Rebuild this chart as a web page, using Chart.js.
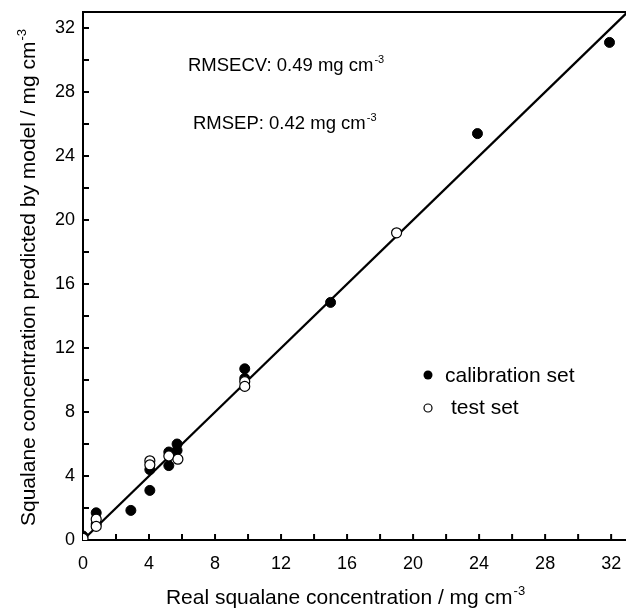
<!DOCTYPE html>
<html>
<head>
<meta charset="utf-8">
<script src="https://cdn.jsdelivr.net/npm/chart.js@4.4.1/dist/chart.umd.min.js"></script>
<style>
  html, body { margin: 0; padding: 0; background: #fff; }
  #wrap { width: 626px; height: 611px; }
</style>
</head>
<body>
<div id="wrap"><canvas id="chart" width="626" height="611"></canvas></div>
<script>
// Values
const calX = [0, 0.8, 0.8, 2.9, 4.05, 4.05, 5.2, 5.2, 5.7, 5.7, 9.8, 9.8, 15, 23.9, 31.9];
const calY = [0.25, 1.7, 1.0, 1.85, 3.1, 4.4, 4.65, 5.5, 6.0, 5.6, 10.7, 10.1, 14.85, 25.4, 31.1];
const testX = [0, 0.8, 0.8, 4.05, 4.05, 5.2, 5.75, 9.8, 9.8, 19];
const testY = [0.1, 1.3, 0.85, 4.95, 4.7, 5.25, 5.05, 9.9, 9.6, 19.2];
const fitX = [0, 33];
const fitY = [0, 33];
const tickValues = [0, 4, 8, 12, 16, 20, 24, 28, 32];

const FONT = '"Liberation Sans", Arial, Helvetica, sans-serif';

const toPoints = (xs, ys) => xs.map((x, i) => ({ x: x, y: ys[i] }));

// draws text followed by a superscript
function supText(ctx, x, y, base, sup, size, align) {
  ctx.font = size + 'px ' + FONT;
  const wb = ctx.measureText(base).width;
  ctx.font = Math.round(size * 0.62) + 'px ' + FONT;
  const ws = ctx.measureText(sup).width;
  let x0 = x;
  if (align === 'center') x0 = x - (wb + ws) / 2;
  ctx.textAlign = 'left';
  ctx.textBaseline = 'alphabetic';
  ctx.font = size + 'px ' + FONT;
  ctx.fillText(base, x0, y);
  ctx.font = Math.round(size * 0.62) + 'px ' + FONT;
  ctx.fillText(sup, x0 + wb + 1, y - size * 0.42);
}

const decor = {
  id: 'decor',
  afterDraw(chart) {
    const ctx = chart.ctx;
    const a = chart.chartArea;
    const xs = chart.scales.x, ys = chart.scales.y;
    ctx.save();
    ctx.strokeStyle = '#000';
    ctx.fillStyle = '#000';

    // frame top line
    ctx.lineWidth = 2;
    ctx.beginPath();
    ctx.moveTo(a.left, a.top);
    ctx.lineTo(a.right, a.top);
    ctx.stroke();

    // inward ticks every 2 units
    for (let v = 2; v <= 32; v += 2) {
      const px = xs.getPixelForValue(v);
      ctx.beginPath();
      ctx.moveTo(px, a.bottom);
      ctx.lineTo(px, a.bottom - 6);
      ctx.stroke();
      const py = ys.getPixelForValue(v);
      ctx.beginPath();
      ctx.moveTo(a.left, py);
      ctx.lineTo(a.left + 6, py);
      ctx.stroke();
    }

    // axis titles
    supText(ctx, 345, 604, 'Real squalane concentration / mg cm', '-3', 21, 'center');
    ctx.save();
    ctx.translate(35, 278);
    ctx.rotate(-Math.PI / 2);
    supText(ctx, 0, 0, 'Squalane concentration predicted by model / mg cm', '-3', 21, 'center');
    ctx.restore();

    // annotations
    supText(ctx, 188, 71, 'RMSECV: 0.49 mg cm', '-3', 18.5, 'left');
    supText(ctx, 193, 129, 'RMSEP: 0.42 mg cm', '-3', 18.5, 'left');

    // legend
    ctx.beginPath();
    ctx.arc(428, 375, 4.5, 0, Math.PI * 2);
    ctx.fill();
    ctx.beginPath();
    ctx.arc(428, 408, 4, 0, Math.PI * 2);
    ctx.lineWidth = 1.2;
    ctx.stroke();
    ctx.font = '21px ' + FONT;
    ctx.textAlign = 'left';
    ctx.textBaseline = 'middle';
    ctx.fillText('calibration set', 445, 376);
    ctx.fillText('test set', 451, 408);
    ctx.restore();
  }
};

new Chart(document.getElementById('chart'), {
  type: 'scatter',
  data: {
    datasets: [
      {
        label: 'test set',
        data: toPoints(testX, testY),
        backgroundColor: '#fff',
        borderColor: '#000',
        borderWidth: 1.2,
        pointRadius: 5,
        order: 1
      },
      {
        label: 'calibration set',
        data: toPoints(calX, calY),
        backgroundColor: '#000',
        borderColor: '#000',
        borderWidth: 1,
        pointRadius: 5,
        order: 2
      },
      {
        type: 'line',
        label: 'fit',
        data: toPoints(fitX, fitY),
        borderColor: '#000',
        borderWidth: 2.2,
        pointRadius: 0,
        fill: false,
        order: 3
      }
    ]
  },
  options: {
    responsive: false,
    animation: false,
    layout: { autoPadding: false, padding: { top: 12, right: 0, left: 0, bottom: 0 } },
    plugins: { legend: { display: false }, tooltip: { enabled: false } },
    scales: {
      x: {
        type: 'linear',
        min: 0,
        max: 32.9,
        afterFit: s => { s.height = 71; s.paddingLeft = 0; s.paddingRight = 0; },
        grid: { display: false, drawTicks: false },
        border: { display: true, color: '#000', width: 2 },
        ticks: {
          stepSize: 4,
          includeBounds: false,
          maxRotation: 0,
          padding: 13,
          color: '#000',
          font: { family: FONT, size: 18 },
          callback: v => tickValues.includes(v) ? String(v) : ''
        }
      },
      y: {
        type: 'linear',
        min: 0,
        max: 33,
        afterFit: s => { s.width = 83; s.paddingTop = 0; s.paddingBottom = 0; },
        grid: { display: false, drawTicks: false },
        border: { display: true, color: '#000', width: 2 },
        ticks: {
          stepSize: 4,
          includeBounds: false,
          padding: 8,
          color: '#000',
          font: { family: FONT, size: 18 },
          callback: v => tickValues.includes(v) ? String(v) : ''
        }
      }
    }
  },
  plugins: [decor]
});
</script>
</body>
</html>
